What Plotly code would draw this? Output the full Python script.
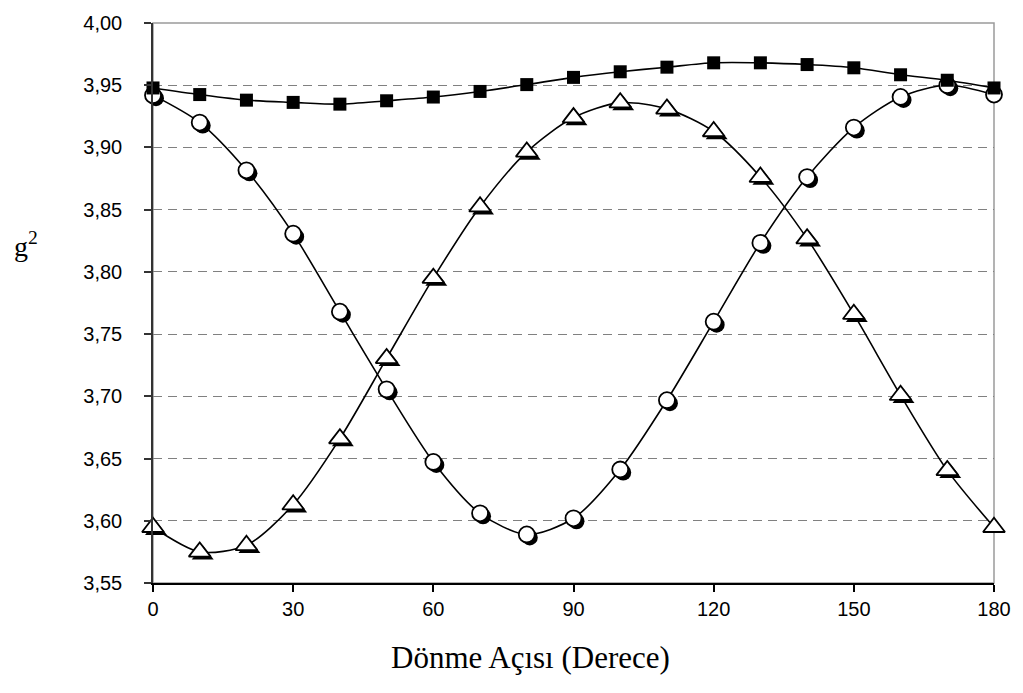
import plotly.graph_objects as go

angles = [0, 10, 20, 30, 40, 50, 60, 70, 80, 90, 100, 110, 120, 130, 140, 150, 160, 170, 180]
squares = [3.9478, 3.9425, 3.9380, 3.9362, 3.9348, 3.9375, 3.9405, 3.9450, 3.9505, 3.9563, 3.9608, 3.9645, 3.9680, 3.9680, 3.9666, 3.9640, 3.9584, 3.9540, 3.9478]
circles = [3.9420, 3.9200, 3.8816, 3.8307, 3.7680, 3.7056, 3.6473, 3.6060, 3.5890, 3.6020, 3.6412, 3.6969, 3.7600, 3.8233, 3.8762, 3.9160, 3.9406, 3.9500, 3.9425]
triangles = [3.5948, 3.5750, 3.5803, 3.6129, 3.6660, 3.7305, 3.7950, 3.8524, 3.8964, 3.9240, 3.9360, 3.9310, 3.9128, 3.8762, 3.8267, 3.7660, 3.7009, 3.6405, 3.5948]

x_ticks = [0, 30, 60, 90, 120, 150, 180]
y_ticks = [3.55, 3.60, 3.65, 3.70, 3.75, 3.80, 3.85, 3.90, 3.95, 4.00]
y_ticklabels = ["3,55", "3,60", "3,65", "3,70", "3,75", "3,80", "3,85", "3,90", "3,95", "4,00"]

W, H = 1023, 693
L, R, T, B = 153, 26, 17, 110
XR = [0, 180]
YR = [3.55, 4.00]
px_x = (W - L - R) / (XR[1] - XR[0])
px_y = (H - T - B) / (YR[1] - YR[0])
sdx = 3.0 / px_x   # shadow offset (style)
sdy = 3.0 / px_y

fig = go.Figure()

for ys in (squares, circles, triangles):
    fig.add_trace(go.Scatter(x=angles, y=ys, mode="lines",
                             line=dict(color="black", width=1.6, shape="spline", smoothing=0.8),
                             hoverinfo="skip", cliponaxis=False))

# shadows
for ys, sym, size in ((circles, "circle", 16), (triangles, "triangle-up", 19)):
    fig.add_trace(go.Scatter(x=[a + sdx for a in angles], y=[v - sdy for v in ys], mode="markers",
                             marker=dict(symbol=sym, size=size, color="black", line=dict(width=0)),
                             cliponaxis=False, hoverinfo="skip"))
# front markers
for ys, sym, size in ((circles, "circle", 16), (triangles, "triangle-up", 19)):
    fig.add_trace(go.Scatter(x=angles, y=ys, mode="markers",
                             marker=dict(symbol=sym, size=size, color="white", line=dict(color="black", width=1.8)),
                             cliponaxis=False))
fig.add_trace(go.Scatter(x=angles, y=squares, mode="markers",
                         marker=dict(symbol="square", size=13, color="black", line=dict(width=0)),
                         cliponaxis=False))

fig.update_layout(
    width=W, height=H,
    margin=dict(l=L, r=R, t=T, b=B),
    paper_bgcolor="white", plot_bgcolor="white",
    showlegend=False,
    font=dict(family="Liberation Sans, Arial", size=20, color="black"),
    shapes=[dict(type="rect", xref="paper", yref="paper", x0=0, x1=1, y0=0, y1=1,
                 line=dict(color="#9a9a9a", width=1.5), layer="below")],
    annotations=[
        dict(text="Dönme Açısı (Derece)", xref="paper", yref="paper", x=0.449, y=-0.098,
             xanchor="center", yanchor="top", showarrow=False,
             font=dict(family="Liberation Serif, Times New Roman", size=31, color="black")),
        dict(text="g<sup>2</sup>", xref="paper", yref="paper", x=-0.168, y=0.605,
             xanchor="left", yanchor="middle", showarrow=False,
             font=dict(family="Liberation Serif, Times New Roman", size=28, color="black")),
    ],
)
fig.update_xaxes(range=XR, tickmode="array", tickvals=x_ticks, ticktext=[str(v) for v in x_ticks],
                 ticks="outside", ticklen=7, tickcolor="black", tickwidth=1.5,
                 showline=True, linecolor="black", linewidth=1.5, showgrid=False, zeroline=False,
                 ticklabelstandoff=0)
fig.update_yaxes(range=YR, tickmode="array", tickvals=y_ticks, ticktext=y_ticklabels,
                 ticks="outside", ticklen=7, tickcolor="#333333", tickwidth=1.5,
                 showline=True, linecolor="#333333", linewidth=1.5,
                 showgrid=True, gridcolor="#808080", gridwidth=1.2, griddash="9px,6px",
                 zeroline=False, ticklabelstandoff=18)

fig.write_html("out.html")
